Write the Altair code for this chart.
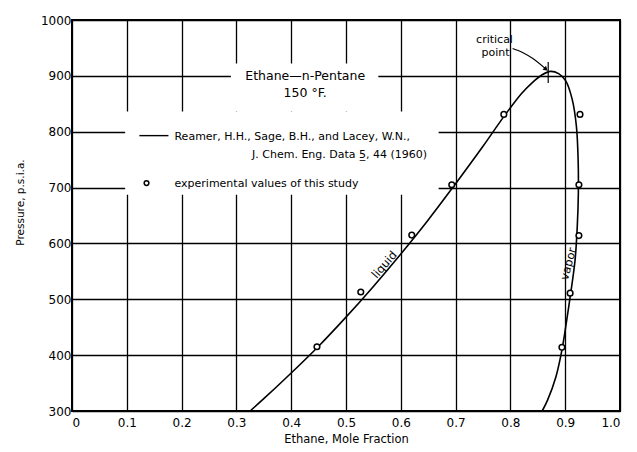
import altair as alt
import pandas as pd

FONT = "DejaVu Sans"

# Phase envelope (liquid branch up to critical region, then vapor branch down)
env_x = [0.325, 0.35, 0.40, 0.45, 0.50, 0.55, 0.60, 0.65, 0.70, 0.75, 0.788, 0.82, 0.84, 0.858, 0.873,
         0.888, 0.901, 0.913, 0.9205, 0.9236, 0.924, 0.922, 0.918, 0.910, 0.901, 0.894,
         0.883, 0.868, 0.858]
env_p = [300, 322, 368, 416, 468, 523, 581, 642, 707, 774, 827, 868, 888, 902, 908,
         904, 891, 857, 809, 749, 690, 630, 570, 511, 451, 409,
         361, 320, 300]

# Experimental values of this study
exp_x = [0.447, 0.527, 0.620, 0.693, 0.788, 0.894, 0.909, 0.925, 0.925, 0.927]
exp_p = [415, 513, 615, 705, 831, 414, 511, 614, 705, 831]

x_ticks = [0.0, 0.1, 0.2, 0.3, 0.4, 0.5, 0.6, 0.7, 0.8, 0.9, 1.0]
y_ticks = [300, 400, 500, 600, 700, 800, 900, 1000]

# White boxes that interrupt the grid behind the title and legend
box_x = [0.290, 0.097]
box_x2 = [0.559, 0.669]
box_p = [922, 836]
box_p2 = [836, 687]

# Title annotation
title_text = ["Ethane\u2014n-Pentane", "150 \u00b0F."]
title_x = [0.4255, 0.4255]
title_p = [900, 870]

# Legend annotation
leg_left_text = ["Reamer, H.H., Sage, B.H., and Lacey, W.N.,", "experimental values of this study"]
leg_left_x = [0.187, 0.187]
leg_left_p = [790, 707]
leg_right_text = ["J. Chem. Eng. Data 5\u0332, 44 (1960)"]
leg_right_x = [0.648]
leg_right_p = [758]
leg_line_x = [0.123]
leg_line_x2 = [0.176]
leg_line_p = [793]
leg_pt_x = [0.136]
leg_pt_p = [708]

# Curve labels
curve_text = ["liquid", "vapor"]
curve_x = [0.571, 0.907]
curve_p = [561, 563]
curve_angle = [311, 285]

# Critical point
crit_text = ["critical", "point"]
crit_tx = [0.771, 0.773]
crit_tp = [964, 941]
crit_x = [0.869]
crit_p1 = [925]
crit_p2 = [887]
arrow_x = [0.804, 0.823, 0.841, 0.865]
arrow_p = [949, 941.5, 931, 912]

xs = alt.Scale(domain=[0, 1], nice=False, zero=False)
ys = alt.Scale(domain=[300, 1000], nice=False, zero=False)

env_df = pd.DataFrame({"x": env_x, "p": env_p, "o": list(range(len(env_x)))})
exp_df = pd.DataFrame({"x": exp_x, "p": exp_p})
box_df = pd.DataFrame({"x": box_x, "x2": box_x2, "p": box_p, "p2": box_p2})
title_df = pd.DataFrame({"t": title_text, "x": title_x, "p": title_p})
ll_df = pd.DataFrame({"t": leg_left_text, "x": leg_left_x, "p": leg_left_p})
lr_df = pd.DataFrame({"t": leg_right_text, "x": leg_right_x, "p": leg_right_p})
lline_df = pd.DataFrame({"x": leg_line_x, "x2": leg_line_x2, "p": leg_line_p})
lpt_df = pd.DataFrame({"x": leg_pt_x, "p": leg_pt_p})
curve_df = pd.DataFrame({"t": curve_text, "x": curve_x, "p": curve_p, "a": curve_angle})
crit_df = pd.DataFrame({"t": crit_text, "x": crit_tx, "p": crit_tp})
crit_tick_df = pd.DataFrame({"x": crit_x, "p": crit_p1, "p2": crit_p2})
arrow_df = pd.DataFrame({"x": arrow_x, "p": arrow_p, "o": list(range(len(arrow_x)))})
arrow_head_df = arrow_df.tail(1)

X = lambda: alt.X("x:Q", scale=xs, axis=alt.Axis(
    values=x_ticks, labelExpr="datum.value == 0 ? '0' : format(datum.value, '.1f')",
    grid=True, gridColor="black", gridWidth=1.3, gridOpacity=1,
    domain=False, ticks=False, labelPadding=6, labelFont=FONT, labelFontSize=12,
    labelColor="black", title="Ethane, Mole Fraction", titleFont=FONT, titleFontSize=11.5,
    titleFontWeight="normal", titleColor="black", titleY=28, titleBaseline="middle"))
Y = lambda: alt.Y("p:Q", scale=ys, axis=alt.Axis(
    values=y_ticks, format="d", grid=True, gridColor="black", gridWidth=1.3, gridOpacity=1,
    domain=False, ticks=False, labelPadding=1, labelFont=FONT, labelFontSize=12,
    labelColor="black", title="Pressure, p.s.i.a.", titleFont=FONT, titleFontSize=10.5,
    titleFontWeight="normal", titleColor="black", titleX=-52, titleY=182,
    titleBaseline="middle"))

boxes = alt.Chart(box_df).mark_rect(color="white").encode(
    x=X(), x2="x2:Q", y=Y(), y2="p2:Q")

envelope = alt.Chart(env_df).mark_line(color="black", strokeWidth=1.6, interpolate="catmull-rom").encode(
    x="x:Q", y="p:Q", order="o:Q")

points = alt.Chart(exp_df).mark_point(shape="circle", size=32, filled=True, fill="white",
                                      stroke="black", strokeWidth=1.5, opacity=1).encode(
    x="x:Q", y="p:Q")

crit_tick = alt.Chart(crit_tick_df).mark_rule(color="black", strokeWidth=1.2).encode(
    x="x:Q", y="p:Q", y2="p2:Q")

arrow = alt.Chart(arrow_df).mark_line(color="black", strokeWidth=1.1, interpolate="catmull-rom").encode(
    x="x:Q", y="p:Q", order="o:Q")
arrow_head = alt.Chart(arrow_head_df).mark_point(shape="triangle-right", size=28, filled=True,
                                                 color="black", angle=40, opacity=1).encode(
    x="x:Q", y="p:Q")

title = alt.Chart(title_df).mark_text(font=FONT, fontSize=12.5, align="center", baseline="middle",
                                      color="black").encode(x="x:Q", y="p:Q", text="t:N")
leg_left = alt.Chart(ll_df).mark_text(font=FONT, fontSize=11, align="left", baseline="middle",
                                      color="black").encode(x="x:Q", y="p:Q", text="t:N")
leg_right = alt.Chart(lr_df).mark_text(font=FONT, fontSize=11, align="right", baseline="middle",
                                       color="black").encode(x="x:Q", y="p:Q", text="t:N")
leg_line = alt.Chart(lline_df).mark_rule(color="black", strokeWidth=1.4).encode(
    x="x:Q", x2="x2:Q", y="p:Q")
leg_pt = alt.Chart(lpt_df).mark_point(shape="circle", size=22, filled=True, fill="white",
                                      stroke="black", strokeWidth=1.5, opacity=1).encode(
    x="x:Q", y="p:Q")
curve_lbl = alt.Chart(curve_df).mark_text(font=FONT, fontSize=11.5, align="center", baseline="middle",
                                          color="black").encode(
    x="x:Q", y="p:Q", text="t:N", angle=alt.Angle("a:Q", scale=None))
crit_lbl = alt.Chart(crit_df).mark_text(font=FONT, fontSize=11, align="center", baseline="middle",
                                        color="black").encode(x="x:Q", y="p:Q", text="t:N")

chart = alt.layer(
    boxes, envelope, crit_tick, arrow, arrow_head, points,
    title, leg_left, leg_right, leg_line, leg_pt, curve_lbl, crit_lbl
).properties(
    width=548, height=391,
    autosize=alt.AutoSizeParams(type="none"),
    padding={"left": 64, "top": 12, "right": 9, "bottom": 33},
    background="white",
).configure_view(
    stroke="black", strokeWidth=2
)

chart.save("out.html", embed_options={"renderer": "svg", "actions": False})
